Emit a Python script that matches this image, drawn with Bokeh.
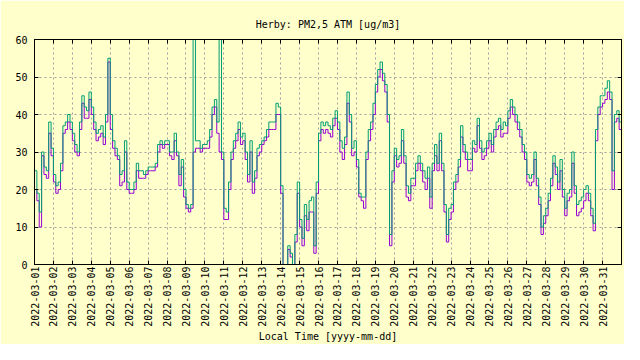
import numpy as np
import pandas as pd
from bokeh.plotting import figure
from bokeh.models import FixedTicker, DatetimeAxis, LinearAxis, DatetimeTickFormatter, Range1d
from bokeh.embed import file_html
from bokeh.resources import INLINE

# ---- data (3-hourly readings, March 2022) ----
start = "2022-03-01"
end = "2022-04-01"
title_text = "Herby: PM2,5 ATM [ug/m3]"
x_label = "Local Time [yyyy-mm-dd]"
y_ticks = [0, 10, 20, 30, 40, 50, 60]

sensor_b = [  # teal series
    25, 19, 14, 30, 26, 25, 38, 31,
    24, 21, 22, 27, 37, 38, 40, 38,
    35, 32, 30, 38, 45, 42, 41, 46,
    42, 38, 35, 36, 37, 34, 40, 55,
    40, 33, 31, 29, 24, 25, 33, 22,
    20, 20, 22, 27, 25, 25, 24, 25,
    26, 26, 26, 27, 32, 33, 32, 33,
    33, 30, 30, 35, 30, 24, 28, 20,
    16, 15, 16, 65, 33, 33, 31, 32,
    32, 33, 36, 42, 44, 38, 62, 30,
    15, 14, 22, 30, 33, 35, 38, 34,
    35, 30, 24, 33, 22, 25, 31, 32,
    33, 34, 36, 38, 38, 38, 43, 42,
    21, -4, -6, 5, 3, -2, 8, 22,
    12, 7, 16, 12, 17, 18, 5, 22,
    35, 38, 37, 38, 37, 36, 39, 41,
    38, 33, 31, 34, 46, 40, 31, 33,
    28, 19, 18, 18, 30, 36, 38, 43,
    48, 52, 54, 51, 48, 40, 8, 25,
    31, 28, 29, 36, 29, 21, 19, 23,
    23, 27, 29, 27, 25, 23, 26, 18,
    27, 32, 27, 35, 27, 16, 8, 15,
    16, 22, 24, 28, 37, 32, 30, 28,
    28, 33, 32, 39, 33, 30, 31, 33,
    35, 32, 36, 38, 39, 36, 38, 37,
    41, 44, 42, 40, 38, 36, 32, 30,
    24, 23, 24, 30, 23, 18, 10, 13,
    15, 19, 23, 29, 26, 22, 28, 20,
    15, 19, 20, 30, 21, 16, 17, 18,
    20, 21, 19, 15, 11, 36, 42, 45,
    45, 47, 49, 46, 25, 40, 41, 38,
]

sensor_a = [  # purple series
    20, 17, 10, 29, 24, 23, 35, 29,
    22, 19, 20, 25, 35, 36, 38, 36,
    33, 30, 29, 36, 43, 39, 39, 44,
    40, 36, 33, 34, 35, 32, 38, 54,
    36, 31, 29, 28, 21, 22, 30, 20,
    19, 19, 20, 25, 23, 23, 23, 24,
    25, 25, 25, 26, 30, 32, 31, 32,
    32, 29, 28, 33, 29, 21, 26, 18,
    15, 14, 15, 30, 31, 31, 30, 31,
    31, 31, 34, 40, 42, 35, 30, 28,
    12, 12, 20, 28, 31, 33, 36, 32,
    33, 28, 22, 30, 19, 23, 29, 30,
    32, 33, 34, 36, 36, 36, 40, 40,
    19, -5, -7, 4, 2, -3, 6, 19,
    10, 5, 13, 9, 14, 14, 3, 19,
    33, 36, 35, 36, 35, 34, 37, 39,
    36, 30, 28, 32, 43, 38, 29, 30,
    26, 18, 17, 15, 28, 33, 36, 40,
    46, 50, 52, 49, 46, 38, 5, 22,
    29, 26, 27, 33, 27, 18, 17, 21,
    21, 25, 27, 25, 22, 20, 23, 15,
    25, 29, 25, 33, 25, 14, 6, 12,
    14, 20, 22, 26, 34, 30, 28, 25,
    25, 31, 30, 37, 31, 28, 29, 31,
    33, 30, 34, 36, 37, 34, 35, 35,
    39, 42, 40, 38, 36, 34, 30, 28,
    22, 21, 22, 28, 21, 16, 8, 11,
    13, 17, 21, 27, 24, 20, 25, 18,
    13, 17, 18, 27, 19, 13, 14, 15,
    17, 19, 17, 13, 9, 33, 40, 42,
    43, 44, 46, 44, 20, 38, 39, 36,
]

# ---- style ----
BG = "#ffffcc"
TEAL = "#009e73"
PURPLE = "#9400d3"
FONT = "DejaVu Sans Mono"
FS = "10px"

times = pd.date_range(start, periods=len(sensor_b) + 1, freq="3h")
b_vals = sensor_b + [sensor_b[-1]]
a_vals = sensor_a + [sensor_a[-1]]

day_ticks = [t.value / 1e6 for t in pd.date_range(start, "2022-03-31", freq="D")]
x_ticker = FixedTicker(ticks=day_ticks)
y_ticker = FixedTicker(ticks=y_ticks)

p = figure(width=624, height=344, x_axis_type="datetime",
           output_backend="svg", toolbar_location=None,
           x_range=Range1d(pd.Timestamp(start), pd.Timestamp(end)),
           y_range=Range1d(0, 60),
           min_border_left=34, min_border_right=3,
           min_border_top=39, min_border_bottom=76,
           background_fill_color=BG, border_fill_color=BG)

p.step(times, a_vals, mode="after", line_color=PURPLE, line_width=1)
p.step(times, b_vals, mode="after", line_color=TEAL, line_width=1)

p.outline_line_color = "black"
p.outline_line_width = 1

p.title.text = title_text
p.title.align = "center"
p.title.text_font = FONT
p.title.text_font_size = FS
p.title.text_font_style = "normal"
p.title.text_color = "black"
p.title.standoff = 19

fmt = "%Y-%m-%d"
dt_fmt = DatetimeTickFormatter(microseconds=fmt, milliseconds=fmt, seconds=fmt,
                               minsec=fmt, minutes=fmt, hourmin=fmt, hours=fmt,
                               days=fmt, months=fmt, years=fmt)


def style(ax, show_labels=True):
    ax.axis_line_color = "black"
    ax.major_tick_line_color = "black"
    ax.major_tick_in = 4
    ax.major_tick_out = 0
    ax.minor_tick_line_color = None
    ax.major_label_text_font = FONT
    ax.major_label_text_font_size = FS
    ax.major_label_text_color = "black" if show_labels else None


xa = p.xaxis[0]
xa.ticker = x_ticker
xa.formatter = dt_fmt
style(xa)
xa.major_label_orientation = np.pi / 2
xa.major_label_standoff = 2
xa.axis_label = x_label
xa.axis_label_text_font = FONT
xa.axis_label_text_font_size = FS
xa.axis_label_text_font_style = "normal"
xa.axis_label_text_color = "black"
xa.axis_label_standoff = 1

ya = p.yaxis[0]
ya.ticker = y_ticker
style(ya)
ya.major_label_standoff = 7

top = DatetimeAxis(ticker=x_ticker, formatter=dt_fmt)
style(top, False)
top.major_label_standoff = 0
p.add_layout(top, "above")

right = LinearAxis(ticker=y_ticker)
style(right, False)
right.major_label_standoff = 0
p.add_layout(right, "right")

for g, tk in ((p.xgrid[0], x_ticker), (p.ygrid[0], y_ticker)):
    g.ticker = tk
    g.grid_line_color = "#a0a0a0"
    g.grid_line_dash = "2 3"
    g.grid_line_width = 1

open("out.html", "w").write(file_html(p, INLINE))
